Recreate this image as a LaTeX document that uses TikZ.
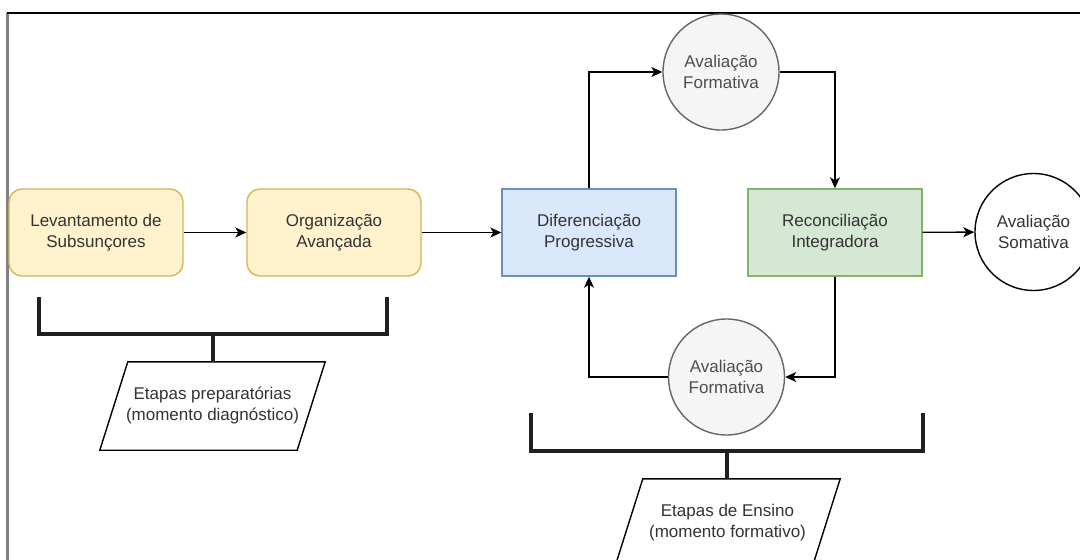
\documentclass[tikz,border=0pt]{standalone}
\usepackage{fontspec}
\setmainfont{Liberation Sans}
\usetikzlibrary{shapes.geometric,arrows.meta}
\definecolor{txt}{HTML}{333333}
\definecolor{yfill}{HTML}{FFF2CC}
\definecolor{ydraw}{HTML}{D6B656}
\definecolor{bfill}{HTML}{DAE8FC}
\definecolor{bdraw}{HTML}{6C8EBF}
\definecolor{gfill}{HTML}{D5E8D4}
\definecolor{gdraw}{HTML}{82B366}
\definecolor{cfill}{HTML}{F5F5F5}
\definecolor{cdraw}{HTML}{666666}
\definecolor{ctxt}{HTML}{4D4D4D}
\tikzset{
  lbl/.style={font=\fontsize{17}{21}\selectfont, text=txt, align=center},
  boxbase/.style={lbl, draw, line width=1.4pt, minimum width=174, minimum height=87, inner sep=0pt},
  ybox/.style={boxbase, fill=yfill, draw=ydraw, rounded corners=13},
  bbox/.style={boxbase, fill=bfill, draw=bdraw},
  gbox/.style={boxbase, fill=gfill, draw=gdraw},
  fcirc/.style={lbl, circle, draw=cdraw, fill=cfill, line width=1.4pt, minimum size=116, inner sep=0pt, text=ctxt},
  scirc/.style={lbl, circle, draw=black, fill=white, line width=1.4pt, minimum size=117, inner sep=0pt},
  arr/.style={draw=black, line width=1.4pt, -{Stealth[length=11,width=10,inset=3]}},
  brk/.style={draw=black!88, line width=3.3pt},
  ptext/.style={lbl, minimum width=197, minimum height=88, inner sep=0pt},
  pline/.style={draw=black, line width=1.4pt, fill=white, line join=miter},
}
\begin{document}
\begin{tikzpicture}[x=1pt,y=-1pt]
\useasboundingbox (0,0) rectangle (1080,560);
\clip (0,0) rectangle (1080,560);
\fill[white] (0,0) rectangle (1080,560);
% frame
\draw[draw=black!50, line width=2.2pt] (7.5,13) -- (7.5,560);
\draw[draw=black, line width=1.6pt] (7,13) -- (1080,13);
% nodes
\node[ybox] (lev) at (96,232.5) {Levantamento de\\Subsunçores};
\node[ybox] (org) at (334,232.5) {Organização\\Avançada};
\node[bbox] (dif) at (589,232.5) {Diferenciação\\Progressiva};
\node[gbox] (rec) at (835,232.5) {Reconciliação\\Integradora};
\node[scirc] (som) at (1033.5,232) {Avaliação\\Somativa};
\node[fcirc] (fa1) at (721,72) {Avaliação\\Formativa};
\node[fcirc] (fa2) at (726.5,377) {Avaliação\\Formativa};
% connectors
\draw[arr] (lev) -- (org);
\draw[arr] (org) -- (dif);
\draw[arr] (dif.north) |- (fa1.west);
\draw[arr] (fa1.east) -| (rec.north);
\draw[arr] (rec) -- (som);
\draw[arr] (rec.south) |- (fa2.east);
\draw[arr] (fa2.west) -| (dif.south);
% parallelograms
\node[ptext] (p1) at (212.5,406) {};
\draw[pline] ([xshift=14]p1.north west) -- ([xshift=14]p1.north east) -- ([xshift=-14]p1.south east) -- ([xshift=-14]p1.south west) -- cycle;
\node[lbl] at (p1) {Etapas preparatórias\\(momento diagnóstico)};
\node[ptext] (p2) at (727.5,523) {};
\draw[pline] ([xshift=14]p2.north west) -- ([xshift=14]p2.north east) -- ([xshift=-14]p2.south east) -- ([xshift=-14]p2.south west) -- cycle;
\node[lbl] at (p2) {Etapas de Ensino\\(momento formativo)};
% brackets
\coordinate (b1) at (213,334);
\coordinate (b2) at (727,451);
\draw[brk] (39,297) -- (39,334) -- (387,334) -- (387,297);
\draw[brk] (b1) -- (b1 |- p1.north);
\draw[brk] (531,413) -- (531,451) -- (923,451) -- (923,413);
\draw[brk] (b2) -- (b2 |- p2.north);
\end{tikzpicture}
\end{document}
